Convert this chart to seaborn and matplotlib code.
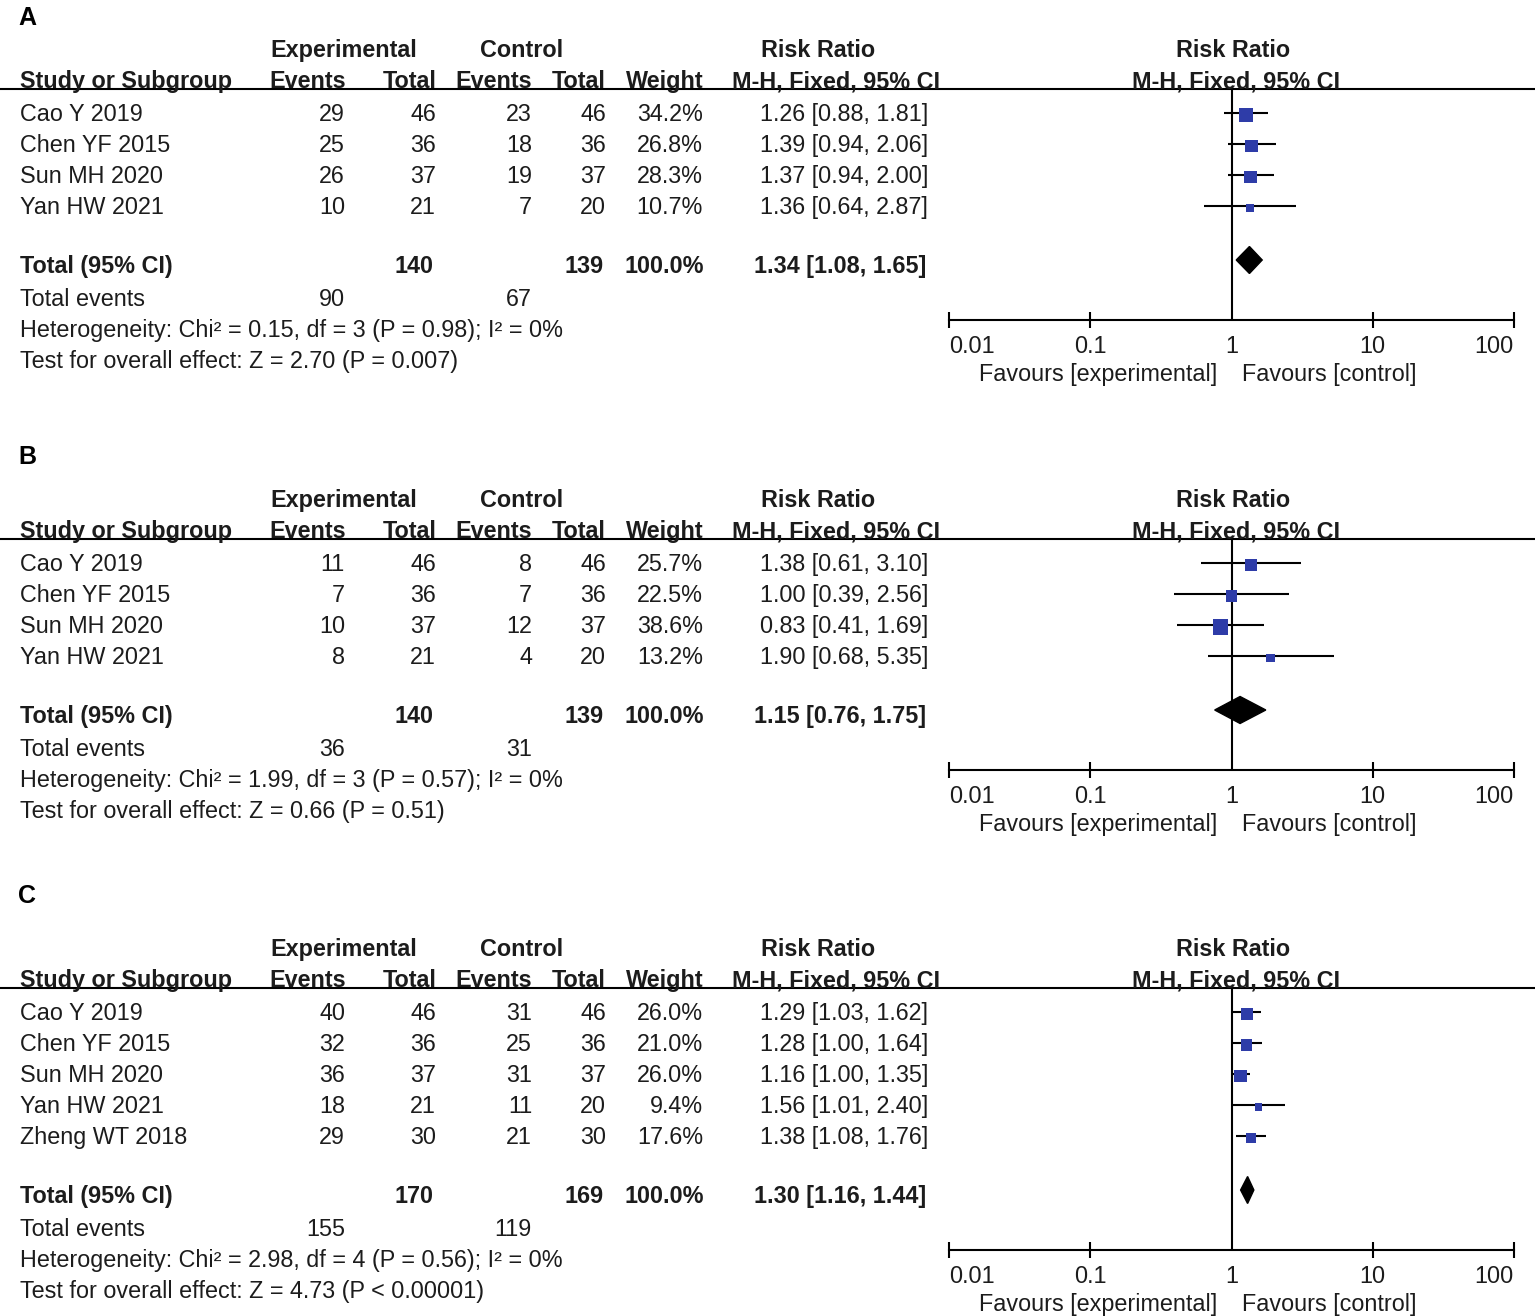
import numpy as np
import pandas as pd
import matplotlib
matplotlib.use("Agg")
import matplotlib.pyplot as plt
import seaborn as sns
from matplotlib.ticker import NullLocator, FixedLocator

sns.set_style("white")
plt.rcParams["font.family"] = ["Liberation Sans", "DejaVu Sans"]

# ---------------- data ----------------
studies_4 = ["Cao Y 2019", "Chen YF 2015", "Sun MH 2020", "Yan HW 2021"]
studies_5 = ["Cao Y 2019", "Chen YF 2015", "Sun MH 2020", "Yan HW 2021", "Zheng WT 2018"]

# Panel A
A_exp_events = [29, 25, 26, 10]
A_exp_total = [46, 36, 37, 21]
A_ctl_events = [23, 18, 19, 7]
A_ctl_total = [46, 36, 37, 20]
A_weight = [34.2, 26.8, 28.3, 10.7]
A_rr = [1.26, 1.39, 1.37, 1.36]
A_lo = [0.88, 0.94, 0.94, 0.64]
A_hi = [1.81, 2.06, 2.00, 2.87]
A_pooled = [1.34, 1.08, 1.65]
A_het = "Heterogeneity: Chi² = 0.15, df = 3 (P = 0.98); I² = 0%"
A_test = "Test for overall effect: Z = 2.70 (P = 0.007)"

# Panel B
B_exp_events = [11, 7, 10, 8]
B_exp_total = [46, 36, 37, 21]
B_ctl_events = [8, 7, 12, 4]
B_ctl_total = [46, 36, 37, 20]
B_weight = [25.7, 22.5, 38.6, 13.2]
B_rr = [1.38, 1.00, 0.83, 1.90]
B_lo = [0.61, 0.39, 0.41, 0.68]
B_hi = [3.10, 2.56, 1.69, 5.35]
B_pooled = [1.15, 0.76, 1.75]
B_het = "Heterogeneity: Chi² = 1.99, df = 3 (P = 0.57); I² = 0%"
B_test = "Test for overall effect: Z = 0.66 (P = 0.51)"

# Panel C
C_exp_events = [40, 32, 36, 18, 29]
C_exp_total = [46, 36, 37, 21, 30]
C_ctl_events = [31, 25, 31, 11, 21]
C_ctl_total = [46, 36, 37, 20, 30]
C_weight = [26.0, 21.0, 26.0, 9.4, 17.6]
C_rr = [1.29, 1.28, 1.16, 1.56, 1.38]
C_lo = [1.03, 1.00, 1.00, 1.01, 1.08]
C_hi = [1.62, 1.64, 1.35, 2.40, 1.76]
C_pooled = [1.30, 1.16, 1.44]
C_het = "Heterogeneity: Chi² = 2.98, df = 4 (P = 0.56); I² = 0%"
C_test = "Test for overall effect: Z = 4.73 (P < 0.00001)"

axis_ticks = [0.01, 0.1, 1, 10, 100]
axis_ticklabels = ["0.01", "0.1", "1", "10", "100"]

panels = [
    dict(label="A", label_y=16, line_y=89, studies=studies_4,
         ee=A_exp_events, et=A_exp_total, ce=A_ctl_events, ct=A_ctl_total,
         w=A_weight, rr=A_rr, lo=A_lo, hi=A_hi, pooled=A_pooled, het=A_het, test=A_test),
    dict(label="B", label_y=455, line_y=539, studies=studies_4,
         ee=B_exp_events, et=B_exp_total, ce=B_ctl_events, ct=B_ctl_total,
         w=B_weight, rr=B_rr, lo=B_lo, hi=B_hi, pooled=B_pooled, het=B_het, test=B_test),
    dict(label="C", label_y=894, line_y=988, studies=studies_5,
         ee=C_exp_events, et=C_exp_total, ce=C_ctl_events, ct=C_ctl_total,
         w=C_weight, rr=C_rr, lo=C_lo, hi=C_hi, pooled=C_pooled, het=C_het, test=C_test),
]

# ---------------- layout ----------------
W, H = 1535, 1316
fig = plt.figure(figsize=(W / 100, H / 100), dpi=100)
fig.patch.set_facecolor("white")
lay = fig.add_axes([0, 0, 1, 1])
lay.set_xlim(0, W)
lay.set_ylim(H, 0)
lay.axis("off")

FS = 16.8
TXT = "#1c1c1c"
BLUE = "#2e3ca8"
LW = 1.5


def txt(x, y, s, ha="left", bold=False, size=FS):
    lay.text(x, y + 8.3, s, ha=ha, va="baseline", fontsize=size,
             fontweight="bold" if bold else "normal", color=TXT)


X_STUDY, X_EE, X_ET, X_CE, X_CT, X_W, X_RR = 20, 345, 436, 532, 606, 703, 928
FX0, FX1 = 949, 1514

for p in panels:
    ly = p["line_y"]
    n = len(p["studies"])
    rows = [ly + 24 + 31 * i for i in range(n)]
    ty = rows[-1] + 59
    axis_y = ty + 55

    # panel letter
    lay.text(18, p["label_y"] + 9, p["label"], ha="left", va="baseline",
             fontsize=18, fontweight="bold", color="black")

    # headers
    h1, h2 = ly - 40, ly - 9
    txt(344, h1, "Experimental", ha="center", bold=True)
    txt(522, h1, "Control", ha="center", bold=True)
    txt(818, h1, "Risk Ratio", ha="center", bold=True)
    txt(1233, h1, "Risk Ratio", ha="center", bold=True)
    txt(X_STUDY, h2, "Study or Subgroup", bold=True)
    txt(X_EE + 1, h2, "Events", ha="right", bold=True)
    txt(X_ET + 1, h2, "Total", ha="right", bold=True)
    txt(X_CE, h2, "Events", ha="right", bold=True)
    txt(X_CT, h2, "Total", ha="right", bold=True)
    txt(X_W + 1, h2, "Weight", ha="right", bold=True)
    txt(940, h2, "M-H, Fixed, 95% CI", ha="right", bold=True)
    txt(1236, h2, "M-H, Fixed, 95% CI", ha="center", bold=True)
    lay.hlines(ly, 0, W, color="black", lw=LW)

    # study rows
    for i, y in enumerate(rows):
        txt(X_STUDY, y, p["studies"][i])
        txt(X_EE, y, str(p["ee"][i]), ha="right")
        txt(X_ET, y, str(p["et"][i]), ha="right")
        txt(X_CE, y, str(p["ce"][i]), ha="right")
        txt(X_CT, y, str(p["ct"][i]), ha="right")
        txt(X_W, y, f"{p['w'][i]:.1f}%", ha="right")
        txt(X_RR, y, f"{p['rr'][i]:.2f} [{p['lo'][i]:.2f}, {p['hi'][i]:.2f}]", ha="right")

    # totals
    est, plo, phi = p["pooled"]
    txt(X_STUDY, ty, "Total (95% CI)", bold=True)
    txt(X_ET - 2, ty, str(sum(p["et"])), ha="right", bold=True)
    txt(X_CT - 2, ty, str(sum(p["ct"])), ha="right", bold=True)
    txt(X_W + 1, ty, f"{sum(p['w']):.1f}%", ha="right", bold=True)
    txt(X_RR - 2, ty, f"{est:.2f} [{plo:.2f}, {phi:.2f}]", ha="right", bold=True)
    txt(X_STUDY, ty + 33, "Total events")
    txt(X_EE, ty + 33, str(sum(p["ee"])), ha="right")
    txt(X_CE, ty + 33, str(sum(p["ce"])), ha="right")
    txt(X_STUDY, ty + 64, p["het"])
    txt(X_STUDY, ty + 95, p["test"])

    # forest axes
    ax = fig.add_axes([FX0 / W, 1 - axis_y / H, (FX1 - FX0) / W, (axis_y - ly) / H])
    ax.patch.set_visible(False)
    ax.set_xscale("log")
    ax.axvline(1, color="black", lw=LW, zorder=1)
    ax.hlines(rows, p["lo"], p["hi"], color="black", lw=LW, zorder=2)
    df = pd.DataFrame({"rr": p["rr"], "y": [r + 2 for r in rows], "w": p["w"]})
    sns.scatterplot(data=df, x="rr", y="y", size="w", sizes=(0, 305), size_norm=(0, 100),
                    marker="s", color=BLUE, edgecolor=BLUE, linewidth=0,
                    legend=False, ax=ax, zorder=3, clip_on=False)
    ax.fill([plo, est, phi, est], [ty - 5, ty - 5 - 13.5, ty - 5, ty - 5 + 13.5],
            color="black", zorder=3, clip_on=False)
    ax.set_xlim(0.01, 100)
    ax.set_ylim(axis_y, ly)
    ax.set_xlabel("")
    ax.set_ylabel("")
    ax.set_yticks([])
    for s in ["top", "left", "right"]:
        ax.spines[s].set_visible(False)
    ax.spines["bottom"].set_linewidth(LW)
    ax.spines["bottom"].set_color("black")
    ax.xaxis.set_major_locator(FixedLocator(axis_ticks))
    ax.xaxis.set_minor_locator(NullLocator())
    ax.set_xticklabels(axis_ticklabels)
    ax.tick_params(axis="x", which="major", bottom=True, direction="inout", length=11,
                   width=LW, color="black", labelsize=FS, labelcolor=TXT, pad=5.5)
    labels = ax.get_xticklabels()
    labels[0].set_horizontalalignment("left")
    labels[-1].set_horizontalalignment("right")
    for tk, loc in zip(ax.xaxis.get_major_ticks(), axis_ticks):
        if loc == 1:
            tk.tick1line.set_visible(False)

    txt(1217, axis_y + 53, "Favours [experimental]", ha="right")
    txt(1242, axis_y + 53, "Favours [control]", ha="left")

fig.savefig("out.png", dpi=100, facecolor="white")
